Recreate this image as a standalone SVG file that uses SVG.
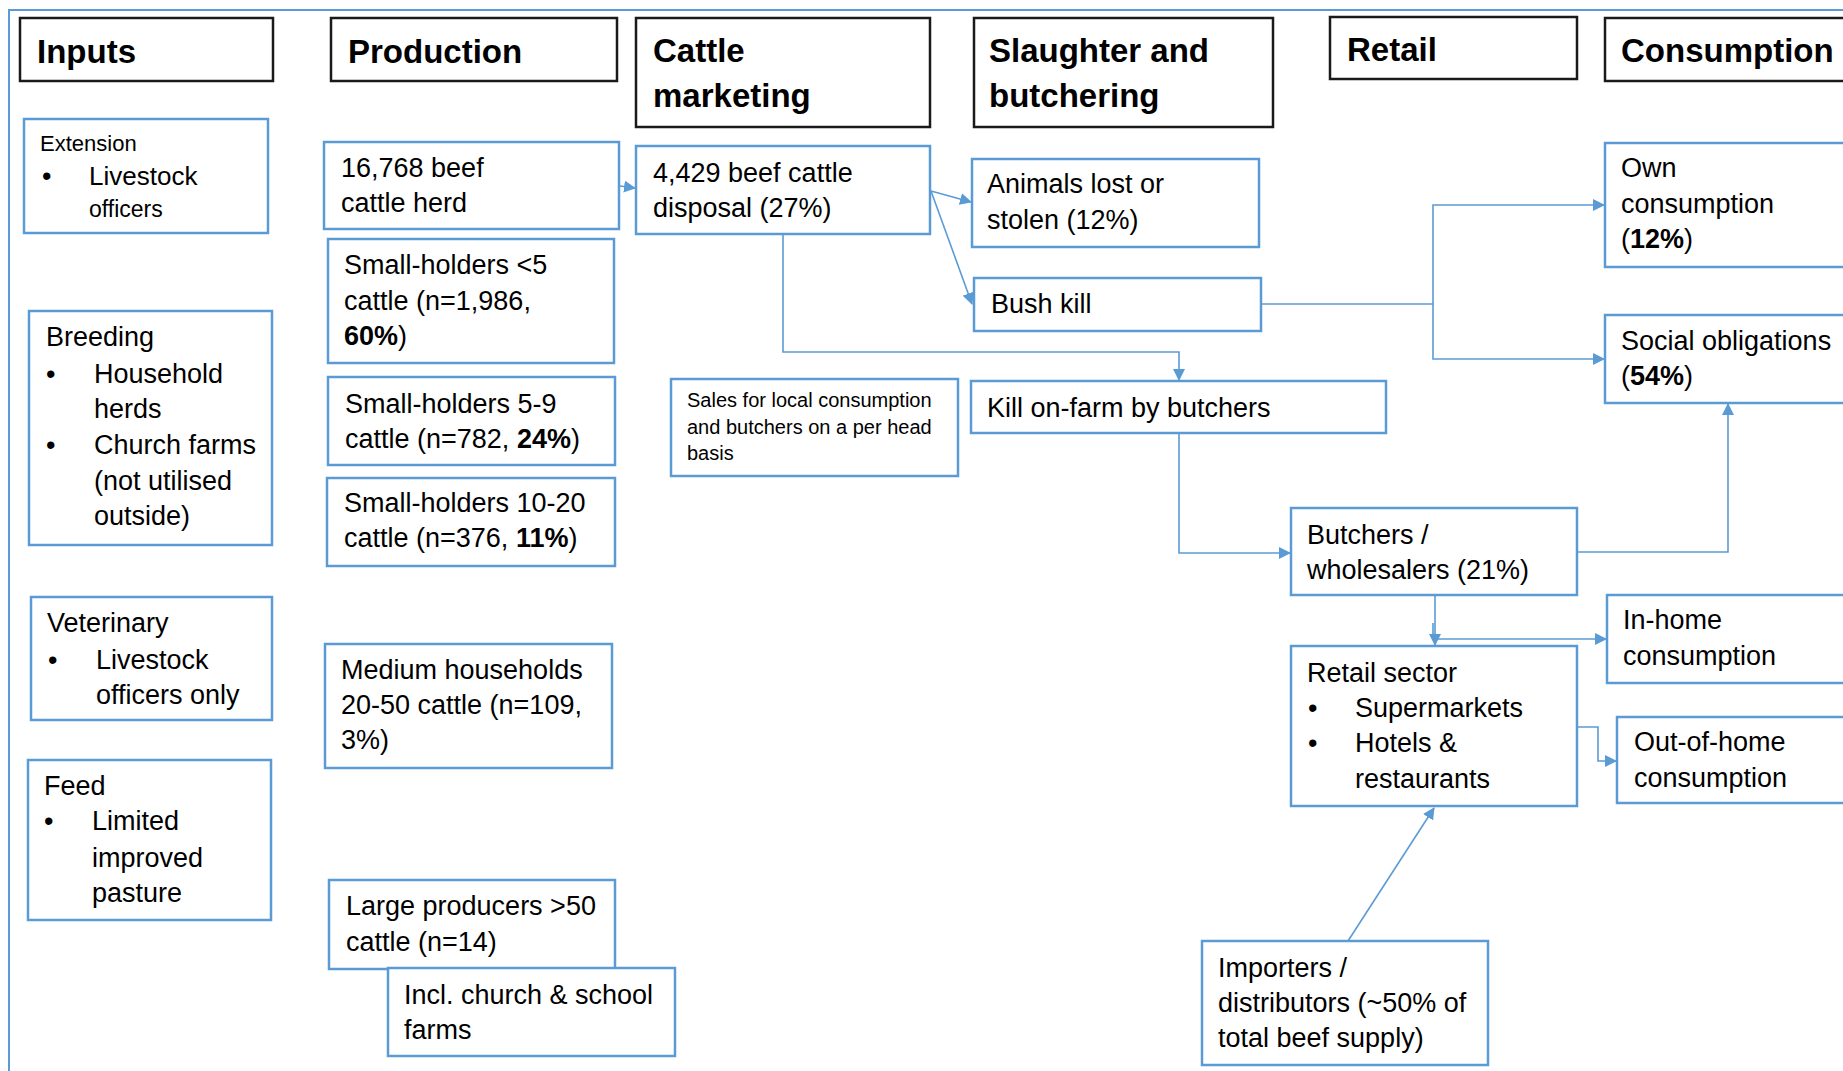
<svg xmlns="http://www.w3.org/2000/svg" width="1843" height="1071" viewBox="0 0 1843 1071">
<defs>
<style>
.hdr{fill:#fff;stroke:#1a1a1a;stroke-width:2.5}
.box{fill:#fff;stroke:#5b9bd5;stroke-width:2.5}
.ht{font-family:"Liberation Sans",Arial,sans-serif;font-weight:bold;font-size:33px;fill:#000}
.t{font-family:"Liberation Sans",Arial,sans-serif;font-size:27px;fill:#000}
.s{font-family:"Liberation Sans",Arial,sans-serif;font-size:20px;fill:#000}
.b{font-weight:bold}
.con{fill:none;stroke:#5b9bd5;stroke-width:1.6}
</style>
<marker id="arr" markerUnits="userSpaceOnUse" markerWidth="12" markerHeight="12" refX="11" refY="6" orient="auto">
<path d="M0,0 L12,6 L0,12 z" fill="#5b9bd5"/>
</marker>
</defs>
<rect width="1843" height="1071" fill="#fff"/>
<path d="M9,1071 V10 H1843" fill="none" stroke="#5b9bd5" stroke-width="2"/>

<!-- headers -->
<g id="h-inputs"><rect class="hdr" x="20" y="18" width="253" height="63"/><text class="ht" x="37" y="63">Inputs</text></g>
<g id="h-production"><rect class="hdr" x="331" y="18" width="286" height="63"/><text class="ht" x="348" y="63">Production</text></g>
<g id="h-marketing"><rect class="hdr" x="636" y="18" width="294" height="109"/><text class="ht" x="653" y="62">Cattle</text><text class="ht" x="653" y="107">marketing</text></g>
<g id="h-slaughter"><rect class="hdr" x="974" y="18" width="299" height="109"/><text class="ht" x="989" y="62">Slaughter and</text><text class="ht" x="989" y="107">butchering</text></g>
<g id="h-retail"><rect class="hdr" x="1330" y="17" width="247" height="62"/><text class="ht" x="1347" y="61">Retail</text></g>
<g id="h-consumption"><rect class="hdr" x="1605" y="18" width="260" height="63"/><text class="ht" x="1621" y="62">Consumption</text></g>

<!-- inputs -->
<g id="extension"><rect class="box" x="24" y="119" width="244" height="114"/>
<text class="t" x="40" y="151" style="font-size:22px">Extension</text>
<text class="t" x="42" y="185">•</text><text class="t" x="89" y="185" style="font-size:26px">Livestock</text>
<text class="t" x="89" y="217" style="font-size:23px">officers</text></g>
<g id="breeding"><rect class="box" x="29" y="311" width="243" height="234"/>
<text class="t" x="46" y="346">Breeding</text>
<text class="t" x="46" y="383">•</text><text class="t" x="94" y="383">Household</text>
<text class="t" x="94" y="418">herds</text>
<text class="t" x="46" y="454">•</text><text class="t" x="94" y="454">Church farms</text>
<text class="t" x="94" y="490">(not utilised</text>
<text class="t" x="94" y="525">outside)</text></g>
<g id="veterinary"><rect class="box" x="31" y="597" width="241" height="123"/>
<text class="t" x="47" y="632">Veterinary</text>
<text class="t" x="48" y="669">•</text><text class="t" x="96" y="669">Livestock</text>
<text class="t" x="96" y="704">officers only</text></g>
<g id="feed"><rect class="box" x="28" y="760" width="243" height="160"/>
<text class="t" x="44" y="795">Feed</text>
<text class="t" x="44" y="830">•</text><text class="t" x="92" y="830">Limited</text>
<text class="t" x="92" y="867">improved</text>
<text class="t" x="92" y="902">pasture</text></g>

<!-- production -->
<g id="herd"><rect class="box" x="324" y="142" width="295" height="87"/>
<text class="t" x="341" y="177">16,768 beef</text><text class="t" x="341" y="212">cattle herd</text></g>
<g id="sh5"><rect class="box" x="328" y="239" width="286" height="124"/>
<text class="t" x="344" y="274">Small-holders &lt;5</text><text class="t" x="344" y="310">cattle (n=1,986,</text><text class="t" x="344" y="345"><tspan class="b">60%</tspan>)</text></g>
<g id="sh59"><rect class="box" x="328" y="377" width="287" height="88"/>
<text class="t" x="345" y="413">Small-holders 5-9</text><text class="t" x="345" y="448">cattle (n=782, <tspan class="b">24%</tspan>)</text></g>
<g id="sh1020"><rect class="box" x="327" y="478" width="288" height="88"/>
<text class="t" x="344" y="512">Small-holders 10-20</text><text class="t" x="344" y="547">cattle (n=376, <tspan class="b">11%</tspan>)</text></g>
<g id="medium"><rect class="box" x="325" y="644" width="287" height="124"/>
<text class="t" x="341" y="679">Medium households</text><text class="t" x="341" y="714">20-50 cattle (n=109,</text><text class="t" x="341" y="749">3%)</text></g>
<g id="large"><rect class="box" x="329" y="880" width="286" height="89"/>
<text class="t" x="346" y="915">Large producers &gt;50</text><text class="t" x="346" y="951">cattle (n=14)</text></g>
<g id="church"><rect class="box" x="388" y="968" width="287" height="88"/>
<text class="t" x="404" y="1004">Incl. church &amp; school</text><text class="t" x="404" y="1039">farms</text></g>

<!-- marketing -->
<g id="disposal"><rect class="box" x="636" y="146" width="294" height="88"/>
<text class="t" x="653" y="182">4,429 beef cattle</text><text class="t" x="653" y="217">disposal (27%)</text></g>
<g id="sales"><rect class="box" x="671" y="379" width="287" height="97"/>
<text class="s" x="687" y="407">Sales for local consumption</text><text class="s" x="687" y="434">and butchers on a per head</text><text class="s" x="687" y="460">basis</text></g>

<!-- slaughter -->
<g id="lost"><rect class="box" x="972" y="159" width="287" height="88"/>
<text class="t" x="987" y="193">Animals lost or</text><text class="t" x="987" y="229">stolen (12%)</text></g>
<g id="bushkill"><rect class="box" x="974" y="278" width="287" height="53"/>
<text class="t" x="991" y="313">Bush kill</text></g>
<g id="killonfarm"><rect class="box" x="971" y="381" width="415" height="52"/>
<text class="t" x="987" y="417">Kill on-farm by butchers</text></g>

<!-- retail -->
<g id="butchers"><rect class="box" x="1291" y="508" width="286" height="87"/>
<text class="t" x="1307" y="544">Butchers /</text><text class="t" x="1307" y="579">wholesalers (21%)</text></g>
<g id="retailsector"><rect class="box" x="1291" y="646" width="286" height="160"/>
<text class="t" x="1307" y="682">Retail sector</text>
<text class="t" x="1308" y="717">•</text><text class="t" x="1355" y="717">Supermarkets</text>
<text class="t" x="1308" y="752">•</text><text class="t" x="1355" y="752">Hotels &amp;</text>
<text class="t" x="1355" y="788">restaurants</text></g>
<g id="importers"><rect class="box" x="1202" y="941" width="286" height="124"/>
<text class="t" x="1218" y="977">Importers /</text><text class="t" x="1218" y="1012">distributors (~50% of</text><text class="t" x="1218" y="1047">total beef supply)</text></g>

<!-- consumption -->
<g id="own"><rect class="box" x="1605" y="143" width="260" height="124"/>
<text class="t" x="1621" y="177">Own</text><text class="t" x="1621" y="213">consumption</text><text class="t" x="1621" y="248">(<tspan class="b">12%</tspan>)</text></g>
<g id="social"><rect class="box" x="1605" y="315" width="260" height="88"/>
<text class="t" x="1621" y="350">Social obligations</text><text class="t" x="1621" y="385">(<tspan class="b">54%</tspan>)</text></g>
<g id="inhome"><rect class="box" x="1607" y="595" width="260" height="88"/>
<text class="t" x="1623" y="629">In-home</text><text class="t" x="1623" y="665">consumption</text></g>
<g id="outhome"><rect class="box" x="1617" y="717" width="250" height="86"/>
<text class="t" x="1634" y="751">Out-of-home</text><text class="t" x="1634" y="787">consumption</text></g>

<!-- connectors -->
<g id="connectors">
<path class="con" d="M620,186 L635,188" marker-end="url(#arr)"/>
<path class="con" d="M931,191 L971,202" marker-end="url(#arr)"/>
<path class="con" d="M931,191 L972,304" marker-end="url(#arr)"/>
<path class="con" d="M783,234 V352 H1179 V380" marker-end="url(#arr)"/>
<path class="con" d="M1179,433 V553 H1290" marker-end="url(#arr)"/>
<path class="con" d="M1261,304 H1433"/>
<path class="con" d="M1433,304 V205 H1604" marker-end="url(#arr)"/>
<path class="con" d="M1433,304 V359 H1604" marker-end="url(#arr)"/>
<path class="con" d="M1577,552 H1728 V404" marker-end="url(#arr)"/>
<path class="con" d="M1435,595 V645" marker-end="url(#arr)"/>
<path class="con" d="M1433,623 V639 H1606" marker-end="url(#arr)"/>
<path class="con" d="M1577,727 H1598 V761 H1616" marker-end="url(#arr)"/>
<path class="con" d="M1348,941 L1434,808" marker-end="url(#arr)"/>
</g>
</svg>
